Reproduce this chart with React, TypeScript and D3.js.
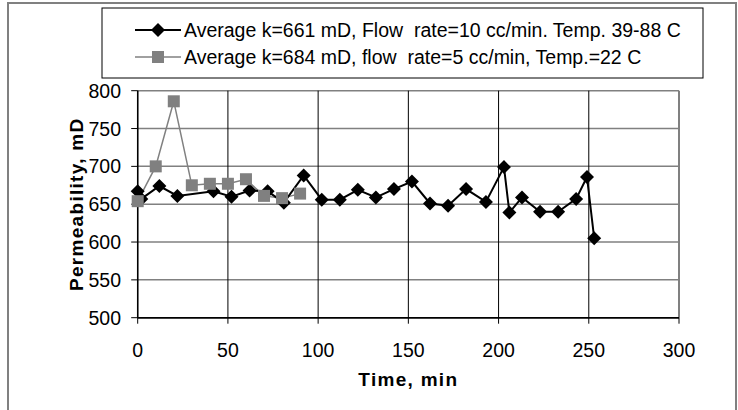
import React from "react";
import * as d3 from "d3";

const blackTime = [0, 2, 12, 22, 42, 52, 62, 72, 81, 92, 102, 112, 122, 132, 142, 152, 162, 172, 182, 193, 203, 206, 213, 223, 233, 243, 249, 253];
const blackPerm = [667, 657, 674, 661, 667, 660, 668, 667, 652, 688, 656, 656, 669, 659, 670, 680, 651, 648, 670, 653, 699, 639, 659, 640, 640, 657, 686, 605];
const grayTime = [0, 10, 20, 30, 40, 50, 60, 70, 80, 90];
const grayPerm = [654, 700, 786, 675, 677, 677, 683, 661, 658, 664];
const xTicks = [0, 50, 100, 150, 200, 250, 300];
const yTicks = [500, 550, 600, 650, 700, 750, 800];
const legendLabels = [
  "Average k=661 mD, Flow  rate=10 cc/min. Temp. 39-88 C",
  "Average k=684 mD, flow  rate=5 cc/min, Temp.=22 C",
];
const xTitle = "Time, min";
const yTitle = "Permeability, mD";

const FONT = "'Liberation Sans', Arial, sans-serif";

export default function App() {
  const left = 137.7, right = 679, top = 90.7, bottom = 317.7;
  const x = d3.scaleLinear().domain([0, 300]).range([left, right]);
  const y = d3.scaleLinear().domain([500, 800]).range([bottom, top]);
  const line = d3.line<[number, number]>().x((d) => x(d[0])).y((d) => y(d[1]));
  const black: [number, number][] = blackTime.map((t, i) => [t, blackPerm[i]]);
  const gray: [number, number][] = grayTime.map((t, i) => [t, grayPerm[i]]);
  const dS = 7; // diamond half size
  const sS = 6; // square half size
  const diamond = (cx: number, cy: number) => `M${cx},${cy - dS}L${cx + dS},${cy}L${cx},${cy + dS}L${cx - dS},${cy}Z`;

  const legX = 102, legY = 8, legW = 601, legH = 70;
  const rowY = [30, 57];

  return (
    <svg width={738} height={410} style={{ position: "absolute", left: 0, top: 0, background: "#fff" }}>
      <rect x={0} y={0} width={738} height={410} fill="#fff" />
      <rect x={8} y={3} width={728} height={430} fill="none" stroke="#808080" strokeWidth={2} />
      {yTicks.map((t) => (
        <line key={"h" + t} x1={left} x2={right} y1={y(t)} y2={y(t)} stroke={t === 500 ? "#000" : "#808080"} strokeWidth={1.5} />
      ))}
      {xTicks.map((t) => (
        <line key={"v" + t} x1={x(t)} x2={x(t)} y1={top} y2={bottom} stroke={t === 300 ? "#808080" : "#000"} strokeWidth={t === 300 ? 2 : 1} />
      ))}
      <line x1={left} x2={left} y1={top} y2={bottom} stroke="#000" strokeWidth={1.5} />
      <line x1={left} x2={right} y1={bottom} y2={bottom} stroke="#000" strokeWidth={1.5} />
      {xTicks.map((t) => (
        <line key={"xt" + t} x1={x(t)} x2={x(t)} y1={bottom} y2={bottom + 6} stroke="#000" strokeWidth={1} />
      ))}
      {yTicks.map((t) => (
        <line key={"yt" + t} x1={left - 6.5} x2={left} y1={y(t)} y2={y(t)} stroke="#000" strokeWidth={1} />
      ))}
      {yTicks.map((t) => (
        <text key={"yl" + t} x={121} y={y(t) + 7} textAnchor="end" fontFamily={FONT} fontSize={19.5} fill="#000">{t}</text>
      ))}
      {xTicks.map((t) => (
        <text key={"xl" + t} x={x(t)} y={357} textAnchor="middle" fontFamily={FONT} fontSize={19.5} fill="#000">{t}</text>
      ))}
      <text x={(left + right) / 2} y={386} textAnchor="middle" fontFamily={FONT} fontSize={19} fontWeight="bold" letterSpacing={1.3} fill="#000">{xTitle}</text>
      <text transform={`translate(83,${(top + bottom) / 2}) rotate(-90)`} textAnchor="middle" fontFamily={FONT} fontSize={19} fontWeight="bold" letterSpacing={1.3} fill="#000">{yTitle}</text>
      <path d={line(gray) || ""} fill="none" stroke="#808080" strokeWidth={1.5} />
      <path d={line(black) || ""} fill="none" stroke="#000" strokeWidth={2} />
      {black.map((d, i) => (
        <path key={"b" + i} d={diamond(x(d[0]), y(d[1]))} fill="#000" />
      ))}
      {gray.map((d, i) => (
        <rect key={"g" + i} x={x(d[0]) - sS} y={y(d[1]) - sS} width={sS * 2} height={sS * 2} fill="#808080" />
      ))}
      <rect x={legX} y={legY} width={legW} height={legH} fill="#fff" stroke="#000" strokeWidth={1} />
      <line x1={135} x2={181} y1={rowY[0]} y2={rowY[0]} stroke="#000" strokeWidth={2} />
      <path d={diamond(158, rowY[0])} fill="#000" />
      <line x1={135} x2={181} y1={rowY[1]} y2={rowY[1]} stroke="#808080" strokeWidth={1.5} />
      <rect x={158 - sS} y={rowY[1] - sS} width={sS * 2} height={sS * 2} fill="#808080" />
      {legendLabels.map((l, i) => (
        <text key={"ll" + i} x={184} y={rowY[i] + 7} fontFamily={FONT} fontSize={19.5} fill="#000" style={{ whiteSpace: "pre" }}>{l}</text>
      ))}
    </svg>
  );
}
